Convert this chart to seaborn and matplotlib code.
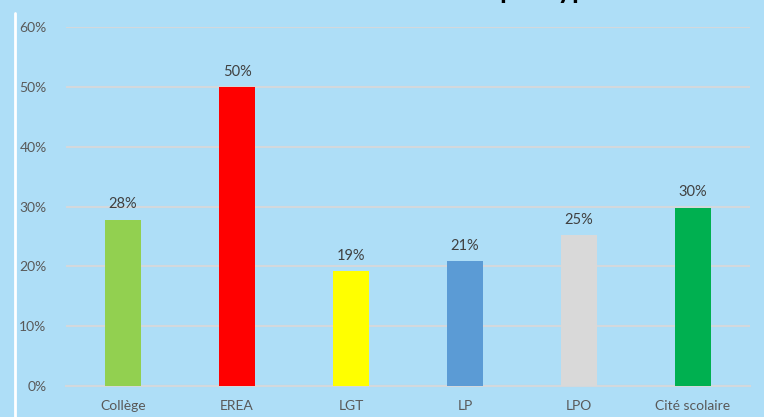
import matplotlib
matplotlib.use("Agg")
import matplotlib.pyplot as plt
from matplotlib.lines import Line2D
from matplotlib.ticker import PercentFormatter
import pandas as pd
import seaborn as sns

# chart data
categories = ["Collège", "EREA", "LGT", "LP", "LPO", "Cité scolaire"]
values = [0.278, 0.50, 0.192, 0.209, 0.252, 0.298]
bar_colors = ["#92D050", "#FF0000", "#FFFF00", "#5B9BD5", "#D9D9D9", "#00B050"]
y_ticks = [0, 0.1, 0.2, 0.3, 0.4, 0.5, 0.6]

BG = "#AEDEF7"
GRID = "#D3D8DC"
TXT = "#595959"

sns.set_style("white")
plt.rcParams["font.family"] = ["Lato", "DejaVu Sans"]

df = pd.DataFrame({"cat": categories, "val": values})

fig = plt.figure(figsize=(7.64, 4.17), dpi=100, facecolor=BG)
W, H = 764, 417
ax = fig.add_axes([66 / W, (H - 386) / H, (750 - 66) / W, (386 - 27) / H])
ax.set_facecolor(BG)

sns.barplot(data=df, x="cat", y="val", hue="cat", palette=bar_colors,
            legend=False, width=0.315, saturation=1, linewidth=0,
            edgecolor="none", ax=ax, zorder=3)

for cont in ax.containers:
    ax.bar_label(cont, fmt=lambda v: f"{v * 100:.0f}%", padding=6,
                 fontsize=10.5, color="#404040")

ax.set_ylim(0, 0.6)
ax.set_yticks(y_ticks)
ax.yaxis.set_major_formatter(PercentFormatter(1.0, decimals=0))
ax.grid(axis="y", color=GRID, linewidth=1.5, zorder=0)
ax.set_axisbelow(True)
for side in ["top", "right", "left"]:
    ax.spines[side].set_visible(False)
ax.spines["bottom"].set_color(GRID)
ax.spines["bottom"].set_linewidth(1.5)
ax.tick_params(axis="y", length=0, pad=14, labelsize=10, labelcolor=TXT)
ax.tick_params(axis="x", length=0, pad=10, labelsize=10, labelcolor=TXT)
ax.set_xlabel("")
ax.set_ylabel("")

# white border line at the left
fig.add_artist(Line2D([15 / W, 15 / W], [0, (H - 13) / H], color="white",
                      linewidth=2, transform=fig.transFigure))

# title, cut off by the top edge of the image (as in the source)
fig.text(500 / W, 1 + 2 / H, "par type", ha="left", va="baseline",
         fontsize=20, fontweight="bold", color="black")

fig.savefig("out.png", dpi=100, facecolor=BG)
